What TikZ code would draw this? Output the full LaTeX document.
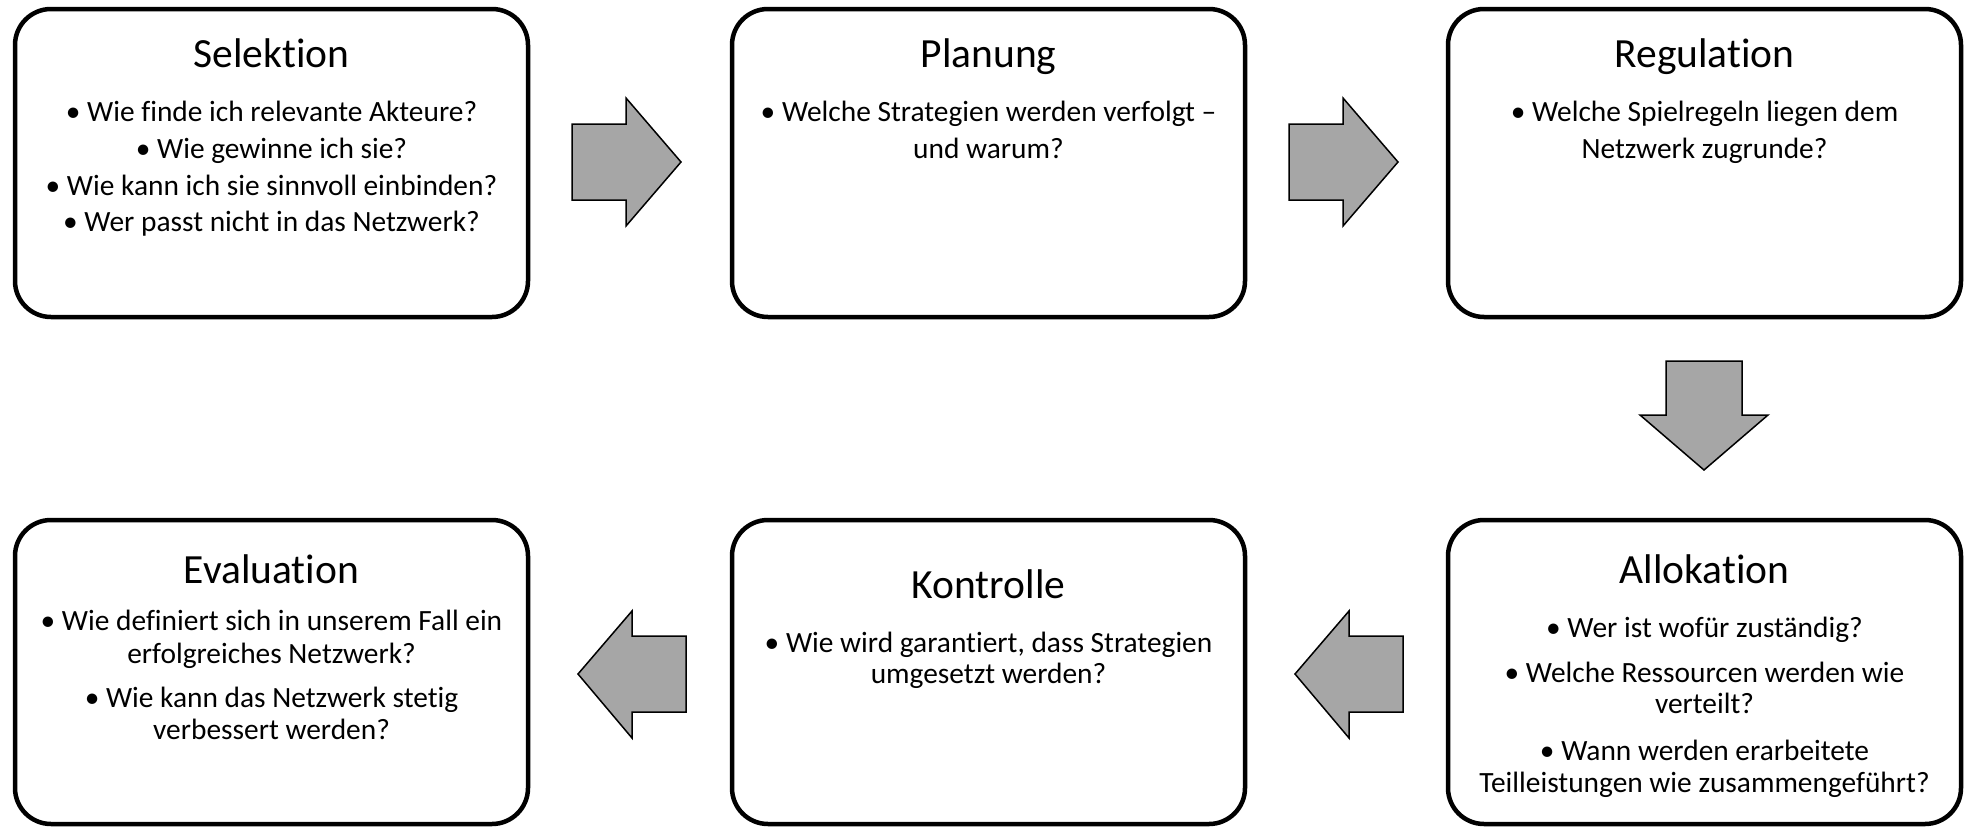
\documentclass[tikz,border=0pt]{standalone}
\usepackage{fontspec}
\setmainfont[Ligatures=NoCommon]{Carlito}
\definecolor{arrowgray}{RGB}{166,166,166}
\newcommand\tline[3]{\node[bod] (#1) at (#2) {#3};}
\begin{document}
\begin{tikzpicture}[x=1pt,y=-1pt,
  box/.style={draw, line width=4.5pt, rounded corners=36pt, minimum width=513pt, anchor=north west, inner sep=0pt, outer sep=0pt},
  ttl/.style={font=\fontsize{41.5}{49}\selectfont, anchor=base, inner sep=0pt},
  bod/.style={font=\fontsize{29.4}{35}\selectfont, anchor=base, inner sep=0pt},
  barrow/.style={draw, line width=1.5pt, fill=arrowgray, line join=miter}]
\useasboundingbox (0,0) rectangle (1971,827);

% boxes
\node[box, minimum height=308pt] (sel) at (15,9) {};
\node[box, minimum height=308pt] (pla) at (732,9) {};
\node[box, minimum height=308pt] (reg) at (1448,9) {};
\node[box, minimum height=304pt] (eva) at (15,520) {};
\node[box, minimum height=304pt] (kon) at (732,520) {};
\node[box, minimum height=304pt] (all) at (1448,520) {};

% Selektion
\node[ttl] (selt) at (271.5,67) {Selektion};
\tline{sel1}{271.5,121.7}{• Wie finde ich relevante Akteure?}
\tline{sel2}{271.5,158.4}{• Wie gewinne ich sie?}
\tline{sel3}{271.5,195}{• Wie kann ich sie sinnvoll einbinden?}
\tline{sel4}{271.5,231.7}{• Wer passt nicht in das Netzwerk?}

% Planung
\node[ttl] (plat) at (988.5,67) {Planung};
\tline{pla1}{988.5,121.7}{• Welche Strategien werden verfolgt –}
\tline{pla2}{988.5,158.4}{und warum?}

% Regulation
\node[ttl] (regt) at (1704.5,67) {Regulation};
\tline{reg1}{1704.5,121.7}{• Welche Spielregeln liegen dem}
\tline{reg2}{1704.5,158.4}{Netzwerk zugrunde?}

% Evaluation
\node[ttl] (evat) at (271.5,583) {Evaluation};
\tline{eva1}{271.5,630}{• Wie definiert sich in unserem Fall ein}
\tline{eva2}{271.5,663}{erfolgreiches Netzwerk?}
\tline{eva3}{271.5,707}{• Wie kann das Netzwerk stetig}
\tline{eva4}{271.5,739}{verbessert werden?}

% Kontrolle
\node[ttl] (kont) at (988.5,598) {Kontrolle};
\tline{kon1}{988.5,652}{• Wie wird garantiert, dass Strategien}
\tline{kon2}{988.5,683}{umgesetzt werden?}

% Allokation
\node[ttl] (allt) at (1704.5,583) {Allokation};
\tline{all1}{1704.5,637}{• Wer ist wofür zuständig?}
\tline{all2}{1704.5,682}{• Welche Ressourcen werden wie}
\tline{all3}{1704.5,713}{verteilt?}
\tline{all4}{1704.5,760}{• Wann werden erarbeitete}
\tline{all5}{1704.5,792}{Teilleistungen wie zusammengeführt?}

% block arrows
\draw[barrow] (572,124) -- (626,124) -- (626,98) -- (681,162) -- (626,226) -- (626,200) -- (572,200) -- cycle;
\draw[barrow] (1289,124) -- (1343,124) -- (1343,98) -- (1398,162) -- (1343,226) -- (1343,200) -- (1289,200) -- cycle;
\draw[barrow] (1666,361) -- (1742,361) -- (1742,415) -- (1768,415) -- (1704,470) -- (1640,415) -- (1666,415) -- cycle;
\draw[barrow] (1403,636) -- (1349,636) -- (1349,611) -- (1295,674) -- (1349,738) -- (1349,712) -- (1403,712) -- cycle;
\draw[barrow] (686,636) -- (632,636) -- (632,611) -- (578,674) -- (632,738) -- (632,712) -- (686,712) -- cycle;
\end{tikzpicture}
\end{document}
